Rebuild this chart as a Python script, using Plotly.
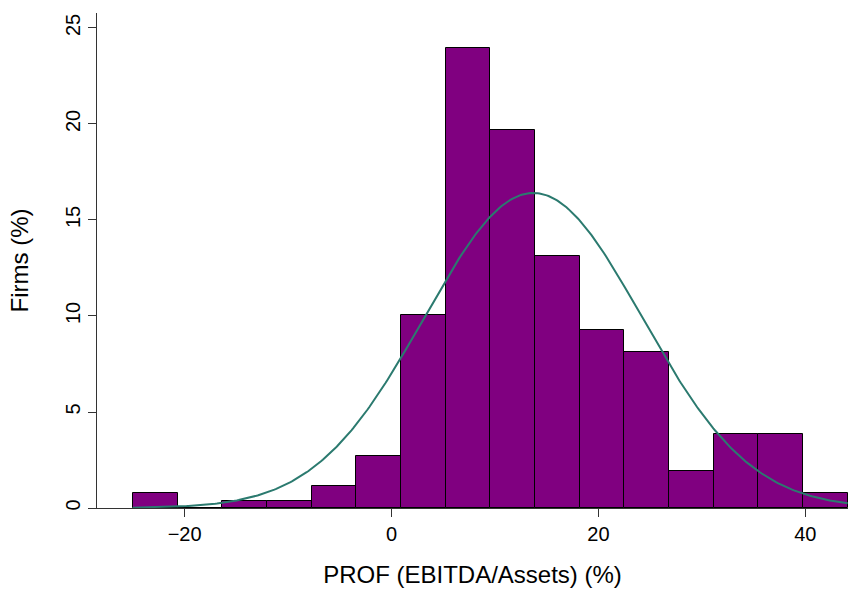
import numpy as np
import plotly.graph_objects as go

# Histogram data (percent of firms per bin)
bin_start = -25.0
bin_width = 4.31875
percent_firms = [0.76, 0.0, 0.38, 0.38, 1.15, 2.70, 10.05, 23.95, 19.70,
                 13.10, 9.25, 8.10, 1.92, 3.85, 3.85, 0.76]

# Normal density overlay parameters
norm_mean = 13.7
norm_sd = 10.5

x_ticks = [-20, 0, 20, 40]
y_ticks = [0, 5, 10, 15, 20, 25]

n_bins = len(percent_firms)
left_edges = [bin_start + i * bin_width for i in range(n_bins)]
data_max = bin_start + n_bins * bin_width

xs = np.linspace(bin_start, data_max, 400)
ys = 100 * bin_width * np.exp(-0.5 * ((xs - norm_mean) / norm_sd) ** 2) / (norm_sd * np.sqrt(2 * np.pi))

fig = go.Figure()
fig.add_trace(go.Bar(
    x=left_edges, y=percent_firms, width=[bin_width] * n_bins, offset=0,
    marker=dict(color="#800080", line=dict(color="black", width=1)),
    showlegend=False, hoverinfo="x+y",
))
fig.add_trace(go.Scatter(
    x=xs, y=ys, mode="lines",
    line=dict(color="#2b7a6f", width=2),
    showlegend=False,
))

font = "Liberation Sans, Arial, Helvetica, sans-serif"
fig.update_layout(
    width=849, height=589,
    margin=dict(l=97, r=1, t=13, b=81),
    paper_bgcolor="white", plot_bgcolor="white",
    bargap=0,
    font=dict(family=font, size=20, color="black"),
    xaxis=dict(
        range=[-28.47, 44.13], tickvals=x_ticks,
        ticktext=[("\u2212" + str(abs(v))) if v < 0 else str(v) for v in x_ticks],
        ticks="outside", ticklen=8, tickcolor="#333", tickwidth=1,
        showline=True, linecolor="#333", linewidth=1,
        showgrid=False, zeroline=False,
        title=dict(text="PROF (EBITDA/Assets) (%)", standoff=22),
    ),
    yaxis=dict(
        range=[0, 25.78], tickvals=y_ticks, tickangle=-90,
        ticks="outside", ticklen=8, tickcolor="#333", tickwidth=1,
        showline=True, linecolor="#333", linewidth=1,
        showgrid=False, zeroline=False,
        title=dict(text="Firms (%)", standoff=26),
    ),
)

fig.write_html("out.html")
